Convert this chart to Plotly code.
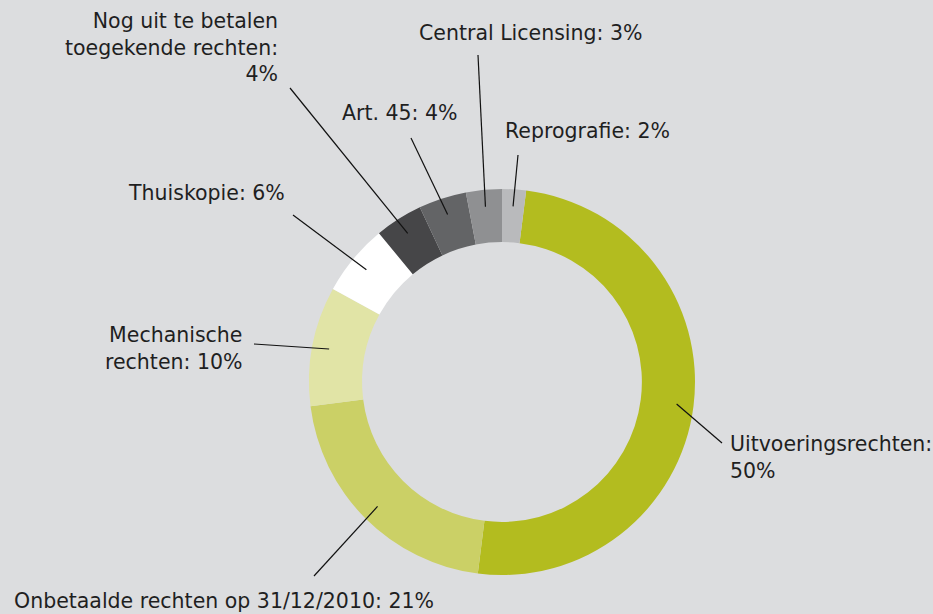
import math
import plotly.graph_objects as go

# Breakdown of distributed rights (percent of total)
categories = [
    "Uitvoeringsrechten",
    "Onbetaalde rechten op 31/12/2010",
    "Mechanische rechten",
    "Thuiskopie",
    "Nog uit te betalen toegekende rechten",
    "Art. 45",
    "Central Licensing",
    "Reprografie",
]
shares = [50, 21, 10, 6, 4, 4, 3, 2]
colors = ["#b3bc1f", "#cbd066", "#e1e4a6", "#ffffff",
          "#464648", "#636466", "#8f9092", "#b9babc"]

W, H = 933, 614
BG = "#dcdddf"
CX, CY, R_OUT = 502, 382, 193   # ring centre and outer radius in px
HOLE = 0.725
R_LINE = 176                    # radius where leader lines start

# Label placement: anchor point (px), anchors, word breaks, leader line end (px)
label_layout = [
    dict(x=728, y=457, xa="left",   align="left",   breaks=[0],    end=(722, 443)),
    dict(x=12,  y=601, xa="left",   align="left",   breaks=[],     end=(314, 576)),
    dict(x=244, y=348, xa="right",  align="right",  breaks=[0],    end=(254, 344)),
    dict(x=287, y=193, xa="right",  align="right",  breaks=[],     end=(293, 215)),
    dict(x=280, y=47,  xa="right",  align="right",  breaks=[3, 5], end=(290, 88)),
    dict(x=400, y=113, xa="center", align="center", breaks=[],     end=(411, 138)),
    dict(x=530, y=33,  xa="center", align="center", breaks=[],     end=(478, 55)),
    dict(x=503, y=131, xa="left",   align="left",   breaks=[],     end=(518, 155)),
]


def px_to_paper(px, py):
    return px / W, 1 - py / H


def wrap(text, breaks):
    words = text.split(" ")
    out = ""
    for i, w in enumerate(words):
        out += w
        if i < len(words) - 1:
            out += "<br>" if i in breaks else " "
    return out


total = sum(shares)
rotation = 360 * shares[-1] / total

x0, y0 = px_to_paper(CX - R_OUT, CY + R_OUT)
x1, y1 = px_to_paper(CX + R_OUT, CY - R_OUT)

fig = go.Figure(go.Pie(
    labels=categories,
    values=shares,
    hole=HOLE,
    sort=False,
    direction="clockwise",
    rotation=rotation,
    marker=dict(colors=colors, line=dict(width=0)),
    textinfo="none",
    hoverinfo="label+percent",
    showlegend=False,
    domain=dict(x=[x0, x1], y=[y0, y1]),
))

annotations = []
shapes = []
start = rotation
for name, val, lay in zip(categories, shares, label_layout):
    sweep = 360 * val / total
    mid = math.radians(start + sweep / 2)
    start += sweep
    sx = CX + R_LINE * math.sin(mid)
    sy = CY - R_LINE * math.cos(mid)
    ax, ay = px_to_paper(sx, sy)
    bx, by = px_to_paper(*lay["end"])
    shapes.append(dict(type="line", xref="paper", yref="paper",
                       x0=ax, y0=ay, x1=bx, y1=by,
                       line=dict(color="#111111", width=1.2)))
    tx, ty = px_to_paper(lay["x"], lay["y"])
    annotations.append(dict(
        xref="paper", yref="paper", x=tx, y=ty,
        xanchor=lay["xa"], yanchor="middle", align=lay["align"],
        text=wrap(f"{name}: {val}%", lay["breaks"]),
        showarrow=False,
        font=dict(family="DejaVu Sans", size=20.5, color="#1f1f1f"),
    ))

fig.update_layout(
    width=W, height=H,
    margin=dict(l=0, r=0, t=0, b=0),
    paper_bgcolor=BG, plot_bgcolor=BG,
    annotations=annotations, shapes=shapes,
)

fig.write_html("out.html")
